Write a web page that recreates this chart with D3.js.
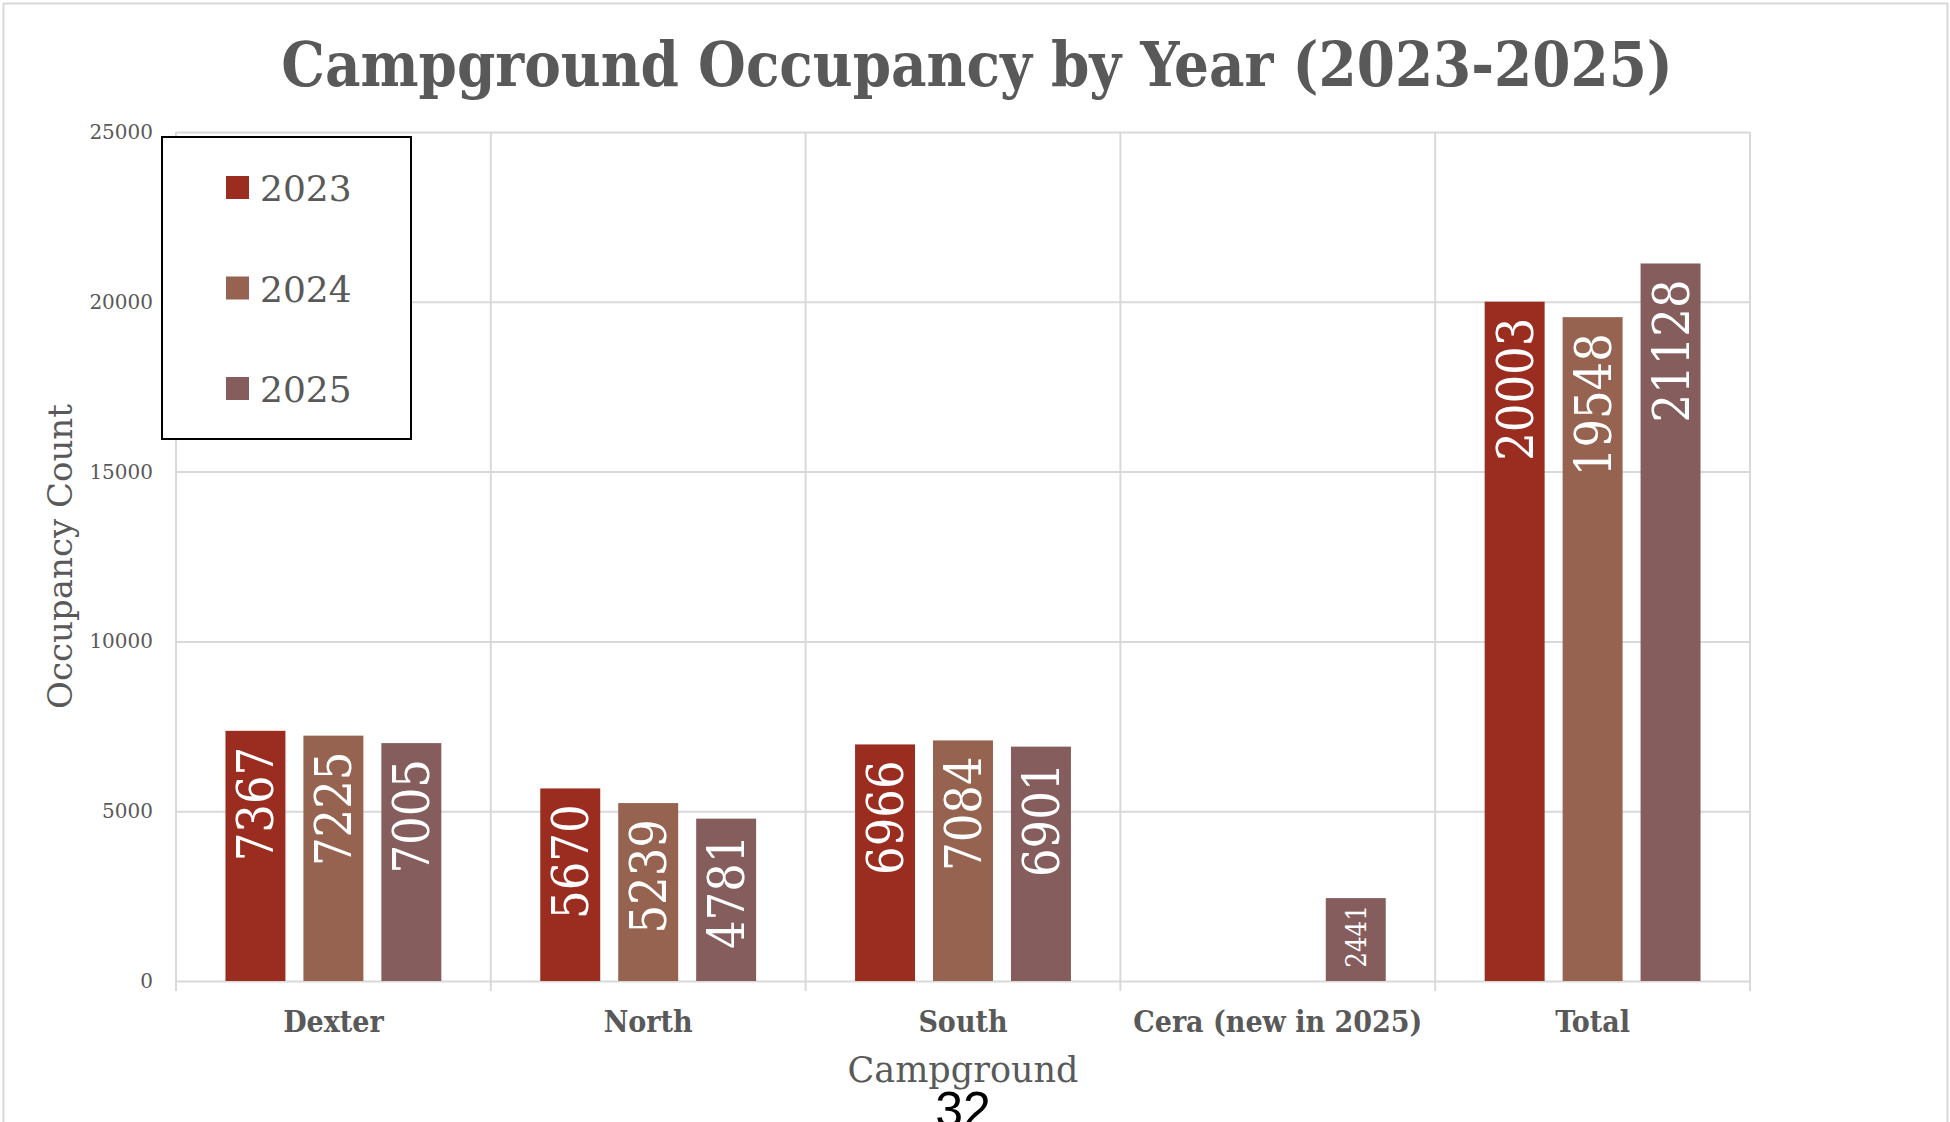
<!DOCTYPE html>
<html>
<head>
<meta charset="utf-8">
<script src="https://cdn.jsdelivr.net/npm/d3@7"></script>
<style>
  html, body { margin: 0; padding: 0; background: #fff; overflow: hidden; }
  svg { display: block; }
  .slab { font-family: "DejaVu Serif Condensed", "DejaVu Serif", serif; font-stretch: condensed; }
  .serif { font-family: "DejaVu Serif", serif; }
</style>
</head>
<body>
<svg id="chart" width="1950" height="1122"></svg>
<script>
// categories and series
const categories = ["Dexter", "North", "South", "Cera (new in 2025)", "Total"];
const years = ["2023", "2024", "2025"];
const occ2023 = [7367, 5670, 6966, null, 20003];
const occ2024 = [7225, 5239, 7084, null, 19548];
const occ2025 = [7005, 4781, 6901, 2441, 21128];
const yTicks = [0, 5000, 10000, 15000, 20000, 25000];
const colors = ["#9b2c20", "#966350", "#865d5d"];

const series = [occ2023, occ2024, occ2025];
const textColor = "#595959";
const gridColor = "#d9d9d9";

const svg = d3.select("#chart");

// page frame
svg.append("rect")
	.attr("x", 3.5).attr("y", 3.5)
	.attr("width", 1944).attr("height", 1140)
	.attr("fill", "none")
	.attr("stroke", gridColor)
	.attr("stroke-width", 2);

const plot = {left: 176, right: 1750, top: 132, bottom: 981};

const x0 = d3.scaleBand()
	.domain(categories)
	.range([plot.left, plot.right])
	.padding(0);

const x1 = d3.scaleBand()
	.domain(years)
	.range([0, x0.bandwidth()])
	.paddingInner(0.2308)
	.paddingOuter(0.6346);

const y = d3.scaleLinear()
	.domain([0, 25000])
	.range([plot.bottom, plot.top]);

//Horizontal gridlines and y labels
const yAxis = svg.append("g")
	.attr("transform", "translate(" + plot.left + ",0)")
	.call(d3.axisLeft(y).tickValues(yTicks).tickFormat(d3.format("d"))
		.tickSize(-(plot.right - plot.left)).tickPadding(23));
yAxis.select(".domain").remove();
yAxis.selectAll(".tick line")
	.attr("stroke", gridColor)
	.attr("stroke-width", 2);
yAxis.selectAll(".tick text")
	.attr("class", "serif")
	.attr("fill", textColor)
	.attr("font-size", 20);

//Vertical gridlines on category boundaries
const bounds = categories.map(c => x0(c)).concat([plot.right]);
svg.append("g").selectAll("line").data(bounds).enter().append("line")
	.attr("x1", d => d).attr("x2", d => d)
	.attr("y1", plot.top).attr("y2", plot.bottom + 10)
	.attr("stroke", gridColor)
	.attr("stroke-width", 2);

//Bars
const groups = svg.append("g").selectAll("g").data(categories).enter().append("g")
	.attr("transform", c => "translate(" + x0(c) + ",0)");

const cells = groups.selectAll("g")
	.data((c, i) => years.map((yr, s) => ({year: yr, s: s, v: series[s][i]})).filter(d => d.v != null))
	.enter().append("g");

cells.append("rect")
	.attr("x", d => x1(d.year))
	.attr("y", d => y(d.v))
	.attr("width", x1.bandwidth())
	.attr("height", d => y(0) - y(d.v))
	.attr("fill", d => colors[d.s]);

cells.append("text")
	.attr("class", "slab")
	.attr("transform", d => "translate(" + (x1(d.year) + x1.bandwidth() / 2) + "," + (y(d.v) + (y(0) - y(d.v) > 150 ? 16 : 7)) + ") rotate(-90)")
	.attr("text-anchor", "end")
	.attr("dy", "0.36em")
	.attr("fill", "#fff")
	.attr("font-size", d => Math.min(50, (y(0) - y(d.v) - 20) / 2.3))
	.text(d => d.v);

//Category labels
svg.append("g").selectAll("text").data(categories).enter().append("text")
	.attr("class", "slab")
	.attr("x", c => x0(c) + x0.bandwidth() / 2)
	.attr("y", 1032)
	.attr("text-anchor", "middle")
	.attr("font-weight", "bold")
	.attr("font-size", 30)
	.attr("fill", textColor)
	.text(c => c);

//Title
svg.append("text")
	.attr("class", "slab")
	.attr("x", 977)
	.attr("y", 86)
	.attr("text-anchor", "middle")
	.attr("font-weight", "bold")
	.attr("font-size", 61)
	.attr("fill", textColor)
	.text("Campground Occupancy by Year (2023-2025)");

//Axis titles
svg.append("text")
	.attr("class", "serif")
	.attr("transform", "translate(72," + ((plot.top + plot.bottom) / 2) + ") rotate(-90)")
	.attr("text-anchor", "middle")
	.attr("font-size", 34)
	.attr("fill", textColor)
	.text("Occupancy Count");

svg.append("text")
	.attr("class", "serif")
	.attr("x", (plot.left + plot.right) / 2)
	.attr("y", 1082)
	.attr("text-anchor", "middle")
	.attr("font-size", 35)
	.attr("fill", textColor)
	.text("Campground");

//Page number
svg.append("text")
	.attr("x", 963)
	.attr("y", 1127)
	.attr("text-anchor", "middle")
	.attr("font-family", "Liberation Sans, Arial, sans-serif")
	.attr("font-size", 50)
	.attr("fill", "#000")
	.text("32");

//Legend
const legend = svg.append("g");
legend.append("rect")
	.attr("x", 162).attr("y", 137)
	.attr("width", 249).attr("height", 302)
	.attr("fill", "#fff")
	.attr("stroke", "#000")
	.attr("stroke-width", 2);

const items = legend.selectAll("g.item").data(years).enter().append("g")
	.attr("class", "item")
	.attr("transform", (d, i) => "translate(226," + (176 + i * 100.5) + ")");
items.append("rect")
	.attr("width", 23).attr("height", 23)
	.attr("fill", (d, i) => colors[i]);
items.append("text")
	.attr("class", "serif")
	.attr("x", 34)
	.attr("y", 25)
	.attr("font-size", 36)
	.attr("fill", textColor)
	.text(d => d);
</script>
</body>
</html>
